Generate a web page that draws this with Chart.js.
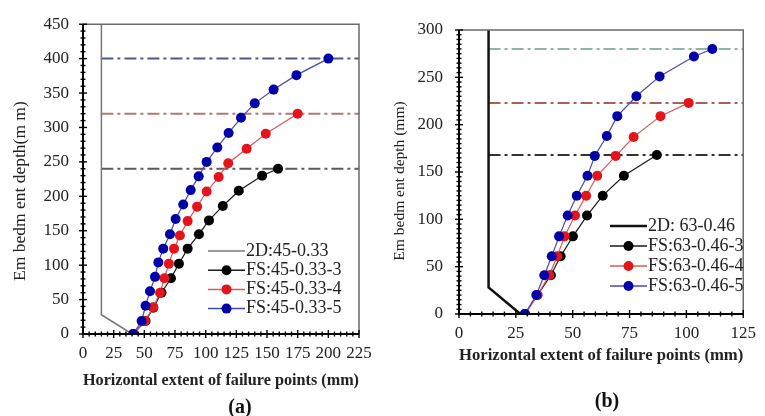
<!DOCTYPE html>
<html><head><meta charset="utf-8">
<script src="https://cdn.jsdelivr.net/npm/chart.js@4.4.0/dist/chart.umd.min.js"></script>
<style>
html,body{margin:0;padding:0;background:#fff;width:765px;height:416px;overflow:hidden;position:relative;font-family:"Liberation Serif",serif}
canvas{position:absolute}
.cap{position:absolute;font:bold 20px "Liberation Serif",serif;color:#111;transform:translate(-50%,-50%);white-space:nowrap}
</style></head><body>
<canvas id="cA" width="385" height="395" style="left:0;top:0;width:385px;height:395px"></canvas>
<canvas id="cB" width="380" height="370" style="left:385px;top:0;width:380px;height:370px"></canvas>
<div class="cap" style="left:240px;top:406px">(a)</div>
<div class="cap" style="left:607px;top:400px">(b)</div>
<script>
// ---------- Panel (a) data ----------
const aLabels = ['2D:45-0.33', 'FS:45-0.33-3', 'FS:45-0.33-4', 'FS:45-0.33-5'];
const aXRange = [0, 225], aXStep = 25, aXMinor = 5;
const aYRange = [0, 450], aYStep = 50, aYMinor = 10;
const aWallX = [15, 15, 40];
const aWallY = [450, 28, 0];
const aFS3X = [41, 51, 57.3, 64, 71.7, 78.2, 85.3, 94.5, 102.7, 114, 127, 146, 159];
const aFS3Y = [0, 19, 38, 60, 81, 102, 124, 145, 165, 186, 208, 230, 240];
const aFS4X = [41, 50.5, 57.3, 62.8, 66.3, 70, 74.2, 79, 85.3, 93, 100.8, 110.6, 118.4, 133.4, 149, 175];
const aFS4Y = [0, 19, 39, 60, 81, 102, 124, 143, 164, 185, 207, 228, 248, 269, 291, 320];
const aFS5X = [41, 47.8, 51, 54.6, 58.7, 61.4, 65.4, 70.9, 75.5, 81.7, 87.8, 94.3, 100.8, 109.5, 118.7, 128.8, 140, 155.4, 174, 200];
const aFS5Y = [0, 19, 41, 62, 83, 104, 124, 145, 167, 188, 209, 229, 250, 271, 292, 314, 335, 355, 376, 400];
const aRefDepths = [400, 320, 240];

// ---------- Panel (b) data ----------
const bLabels = ['2D: 63-0.46', 'FS:63-0.46-3', 'FS:63-0.46-4', 'FS:63-0.46-5'];
const bXRange = [0, 125], bXStep = 25, bXMinor = 5;
const bYRange = [0, 300], bYStep = 50, bYMinor = 5;
const bWallX = [13, 13, 27];
const bWallY = [300, 28, 0];
const bFS3X = [29, 34.5, 40.4, 44.7, 50.1, 56.3, 63.2, 72.5, 87];
const bFS3Y = [0, 20, 41, 61, 82, 104, 125, 146, 168];
const bFS4X = [29, 34.5, 39.7, 43.2, 46.4, 51, 55.9, 60.8, 68.9, 76.8, 88.6, 101];
const bFS4Y = [0, 20, 41, 61, 82, 104, 125, 146, 167, 187, 209, 223];
const bFS5X = [29, 34, 37.5, 40.8, 44, 47.8, 51.8, 56.5, 59.7, 65, 69.6, 78, 88.2, 103.3, 111.4];
const bFS5Y = [0, 20, 41, 61, 82, 104, 125, 146, 167, 188, 209, 230, 251, 272, 280];
const bRefDepths = [280, 223, 168];

const pts = (xs, ys) => xs.map((x, i) => ({x: x, y: ys[i]}));

const axisDeco = {
  id: 'axisDeco',
  afterDatasetsDraw(chart, args, o) {
    const {ctx, chartArea: ca, scales: {x, y}} = chart;
    ctx.save();
    ctx.setLineDash([]);
    ctx.strokeStyle = o.frameColor; ctx.lineWidth = 1.5;
    ctx.beginPath(); ctx.moveTo(ca.left, ca.top); ctx.lineTo(ca.right, ca.top); ctx.lineTo(ca.right, ca.bottom); ctx.stroke();
    ctx.strokeStyle = '#000'; ctx.lineWidth = 2;
    ctx.beginPath(); ctx.moveTo(ca.left, ca.top); ctx.lineTo(ca.left, ca.bottom); ctx.lineTo(ca.right, ca.bottom); ctx.stroke();
    ctx.lineWidth = 1.4;
    const ticks = (scale, minor, major, horiz) => {
      for (let v = scale.min; v <= scale.max + 1e-9; v += minor) {
        const r = v / major;
        const isMajor = Math.abs(r - Math.round(r)) < 1e-6;
        const len = isMajor ? 4 : 2.5;
        const p = scale.getPixelForValue(v);
        ctx.beginPath();
        if (horiz) { ctx.moveTo(p, ca.bottom - len); ctx.lineTo(p, ca.bottom + len); }
        else { ctx.moveTo(ca.left - len, p); ctx.lineTo(ca.left + len, p); }
        ctx.stroke();
      }
    };
    ticks(x, o.xMinor, o.xMajor, true);
    ticks(y, o.yMinor, o.yMajor, false);
    // y axis title (rotated)
    const t = o.yTitle;
    ctx.font = t.font; ctx.fillStyle = t.color; ctx.textAlign = 'center'; ctx.textBaseline = 'middle';
    ctx.translate(t.x, (ca.top + ca.bottom) / 2 + t.dy);
    ctx.rotate(-Math.PI / 2);
    ctx.fillText(t.text, 0, 0);
    ctx.restore();
  }
};

const lineLegend = {
  id: 'lineLegend',
  afterDatasetsDraw(chart, args, o) {
    const ctx = chart.ctx;
    ctx.save();
    ctx.font = o.font; ctx.textBaseline = 'middle'; ctx.setLineDash([]);
    chart.data.datasets.forEach(ds => {
      if (ds.legendRow === undefined) return;
      const y = o.y + ds.legendRow * o.rowH;
      ctx.strokeStyle = ds.legendLine || ds.borderColor; ctx.lineWidth = Math.max(ds.borderWidth, 1.5);
      ctx.beginPath(); ctx.moveTo(o.x, y); ctx.lineTo(o.x + o.lineLen, y); ctx.stroke();
      if (ds.pointRadius) {
        ctx.fillStyle = ds.pointBackgroundColor;
        ctx.beginPath(); ctx.arc(o.x + o.lineLen / 2, y, ds.pointRadius, 0, Math.PI * 2); ctx.fill();
      }
      ctx.fillStyle = o.color;
      ctx.fillText(ds.label, o.x + o.lineLen + o.gap, y);
    });
    ctx.restore();
  }
};

function series(label, data, line, point, row) {
  return {label: label, data: pts(data[0], data[1]), borderColor: line, borderWidth: 1.2,
    pointRadius: 5, pointHoverRadius: 5, pointBackgroundColor: point, pointBorderColor: point,
    pointBorderWidth: 0, showLine: true, tension: 0, legendRow: row};
}
function refLine(depth, wallX, xMax, color) {
  return {label: 'ref', data: [{x: wallX, y: depth}, {x: xMax, y: depth}], borderColor: color,
    borderWidth: 2, borderDash: [12, 4, 3, 4], pointRadius: 0, showLine: true, order: 10};
}

function build(id, P) {
  const datasets = [
    series(P.labels[3], P.fs5, P.c5[0], P.c5[1], 3),
    series(P.labels[2], P.fs4, P.c4[0], P.c4[1], 2),
    series(P.labels[1], P.fs3, P.c3[0], P.c3[1], 1),
    {label: P.labels[0], data: pts(P.wall[0], P.wall[1]), borderColor: P.wallColor, borderWidth: P.wallWidth,
     pointRadius: 0, showLine: true, legendRow: 0, order: 5}
  ];
  P.refs.forEach((d, i) => datasets.push(refLine(d, P.wall[0][0], P.xRange[1], P.refColors[i])));
  datasets.forEach((d, i) => { if (d.order === undefined) d.order = i; });
  return new Chart(document.getElementById(id), {
    type: 'scatter',
    data: {datasets: datasets},
    plugins: [axisDeco, lineLegend],
    options: {
      responsive: false, animation: false, devicePixelRatio: 1,
      layout: {padding: P.padding},
      plugins: {legend: {display: false}, tooltip: {enabled: false},
        axisDeco: {xMinor: P.xMinor, xMajor: P.xStep, yMinor: P.yMinor, yMajor: P.yStep, frameColor: '#6a6a6a',
                   yTitle: P.yTitle},
        lineLegend: P.legend},
      scales: {
        x: {type: 'linear', min: P.xRange[0], max: P.xRange[1],
            grid: {display: false, drawTicks: false}, border: {display: false},
            ticks: {stepSize: P.xStep, autoSkip: false, maxRotation: 0, padding: P.xPad,
                    font: {family: 'Liberation Serif', size: P.tickSize}, color: '#222'},
            title: {display: true, text: 'Horizontal extent of failure points (mm)', color: '#222',
                    font: {family: 'Liberation Serif', size: P.xTitleSize, weight: 'bold'}, padding: {top: 0, bottom: 4}},
            afterFit: s => { s.height = P.xH; }},
        y: {type: 'linear', min: P.yRange[0], max: P.yRange[1],
            grid: {display: false, drawTicks: false}, border: {display: false},
            ticks: {stepSize: P.yStep, padding: P.yPad,
                    font: {family: 'Liberation Serif', size: P.tickSize}, color: '#222'},
            afterFit: s => { s.width = P.yW; }}
      }
    }
  });
}

build('cA', {
  labels: aLabels, fs3: [aFS3X, aFS3Y], fs4: [aFS4X, aFS4Y], fs5: [aFS5X, aFS5Y], wall: [aWallX, aWallY],
  refs: aRefDepths, refColors: ['#4d5a86', '#b07870', '#5a5a5a'],
  c3: ['#1a1a1a', '#000000'], c4: ['#d85a5a', '#e4141a'], c5: ['#4848b0', '#0000a8'],
  wallColor: '#777777', wallWidth: 1.5,
  xRange: aXRange, xStep: aXStep, xMinor: aXMinor, yRange: aYRange, yStep: aYStep, yMinor: aYMinor,
  padding: {top: 14, right: 26, left: 0, bottom: 0}, xH: 61, yW: 83, xPad: 9, yPad: 14,
  tickSize: 17, xTitleSize: 16.5,
  yTitle: {text: 'Em bedm ent depth(m m)', x: 20, dy: 12, font: '17.5px "Liberation Serif"', color: '#222'},
  legend: {x: 208, y: 251, rowH: 19.2, lineLen: 37, gap: 1, font: '18px "Liberation Serif"', color: '#222'}
});
build('cB', {
  labels: bLabels, fs3: [bFS3X, bFS3Y], fs4: [bFS4X, bFS4Y], fs5: [bFS5X, bFS5Y], wall: [bWallX, bWallY],
  refs: bRefDepths, refColors: ['#8fb3a4', '#a8605a', '#333333'],
  c3: ['#1a1a1a', '#000000'], c4: ['#d85a5a', '#e4141a'], c5: ['#4848b0', '#0000a8'],
  wallColor: '#111111', wallWidth: 2.5,
  xRange: bXRange, xStep: bXStep, xMinor: bXMinor, yRange: bYRange, yStep: bYStep, yMinor: bYMinor,
  padding: {top: 30, right: 14, left: 0, bottom: 0}, xH: 56, yW: 74, xPad: 9, yPad: 16,
  tickSize: 17, xTitleSize: 17,
  yTitle: {text: 'Em bedm ent depth (mm)', x: 15, dy: 9, font: '15.5px "Liberation Serif"', color: '#222'},
  legend: {x: 225, y: 226, rowH: 20, lineLen: 37, gap: 1, font: '18px "Liberation Serif"', color: '#222'}
});
</script>
</body></html>
